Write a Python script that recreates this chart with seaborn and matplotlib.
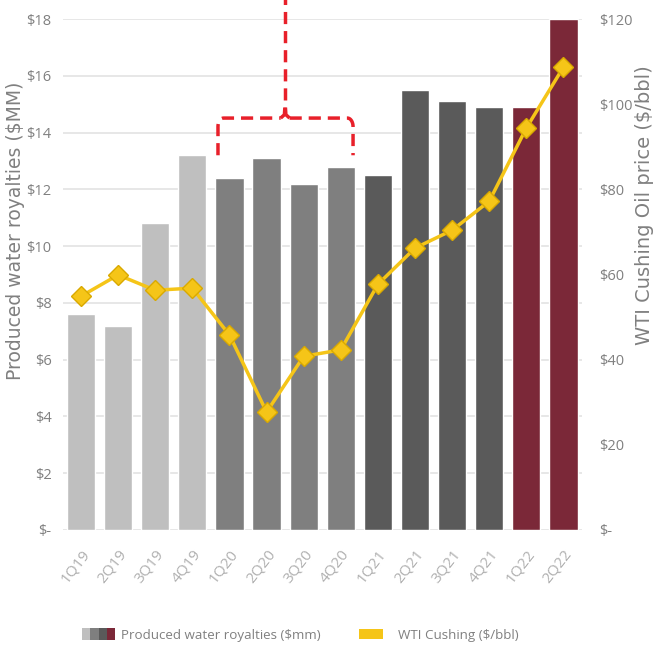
import numpy as np
import pandas as pd
import matplotlib
matplotlib.use("Agg")
import matplotlib.pyplot as plt
import seaborn as sns
from matplotlib.patches import Rectangle
from matplotlib.legend_handler import HandlerBase

# ---------------- data ----------------
quarters = ["1Q19", "2Q19", "3Q19", "4Q19", "1Q20", "2Q20", "3Q20", "4Q20",
            "1Q21", "2Q21", "3Q21", "4Q21", "1Q22", "2Q22"]
royalties = [7.6, 7.2, 10.8, 13.2, 12.4, 13.1, 12.2, 12.8,
             12.5, 15.5, 15.1, 14.9, 14.9, 18.0]
wti = [54.9, 59.9, 56.3, 56.8, 45.8, 27.7, 40.8, 42.3,
       57.7, 66.2, 70.4, 77.2, 94.4, 108.7]
left_ticks = [0, 2, 4, 6, 8, 10, 12, 14, 16, 18]
left_labels = ["$-", "$2", "$4", "$6", "$8", "$10", "$12", "$14", "$16", "$18"]
right_ticks = [0, 20, 40, 60, 80, 100, 120]
right_labels = ["$-", "$20", "$40", "$60", "$80", "$100", "$120"]

c_light, c_mid, c_dark, c_red = "#bfbfbf", "#7f7f7f", "#5a5a5a", "#7b2838"
bar_colors = [c_light] * 4 + [c_mid] * 4 + [c_dark] * 4 + [c_red] * 2
yellow, yellow_edge = "#f5c518", "#d9a900"
text_grey = "#808080"

df = pd.DataFrame({"quarter": quarters, "royalties": royalties, "wti": wti})
df["pos"] = np.arange(len(df))

sns.set_theme(style="white")
plt.rcParams["font.family"] = ["Open Sans", "DejaVu Sans"]

fig = plt.figure(figsize=(6.53, 6.52), dpi=100)
ax = fig.add_axes([62.5 / 653, 1 - 530 / 652, (582 - 62.5) / 653, (530 - 19) / 652])

sns.barplot(data=df, x="quarter", y="royalties", hue="quarter",
            palette=bar_colors, width=0.76, legend=False, ax=ax,
            saturation=1, zorder=2)
ax.set_xlim(-0.5, 13.5)
ax.set_ylim(0, 18)
ax.set_yticks(left_ticks)
ax.set_yticklabels(left_labels)
ax.grid(axis="y", color="#e3e3e3", lw=1.2, zorder=0)
ax.set_axisbelow(True)
for s in ax.spines.values():
    s.set_visible(False)
ax.tick_params(axis="y", length=0, pad=8, labelsize=10.5, labelcolor=text_grey)
ax.set_xlabel("")
ax.set_ylabel("Produced water royalties ($MM)", fontsize=13.5, color=text_grey,
              family=["DejaVu Sans"], va="center", ha="center")
ax.yaxis.set_label_coords(-0.0914, 0.585)

ax2 = ax.twinx()
sns.lineplot(data=df, x="pos", y="wti", ax=ax2, color=yellow, lw=2.5,
             marker="D", markersize=10, markerfacecolor=yellow,
             markeredgecolor=yellow_edge, markeredgewidth=1, zorder=3)
ax2.set_ylim(0, 120)
ax2.set_xlim(-0.5, 13.5)
ax2.set_yticks(right_ticks)
ax2.set_yticklabels(right_labels)
ax2.grid(False)
for s in ax2.spines.values():
    s.set_visible(False)
ax2.tick_params(axis="y", length=0, pad=12, labelsize=10.5, labelcolor=text_grey)
ax2.set_xlabel("")
ax2.set_ylabel("WTI Cushing Oil price ($/bbl)", fontsize=14, color=text_grey,
               family=["DejaVu Sans"], rotation=90, va="center", ha="center")
ax2.yaxis.set_label_coords((644.5 - 62.5) / 519.5, 0.636)

# ---------------- red dashed bracket (COVID period) ----------------
red = "#e8202a"
bx_l, bx_r, bx_c = 3.69, 7.33, 5.50
by_leg, by_top, by_stem, by_up = 13.2, 14.51, 15.04, 18.8
r_x, r_y = 0.15, 0.3
t = np.linspace(0, np.pi / 2, 10)
left_x = np.concatenate([[bx_l], bx_l + r_x - r_x * np.cos(t), [bx_c - 0.12]])
left_y = np.concatenate([[by_leg], by_top - r_y + r_y * np.sin(t), [by_top]])
right_x = np.concatenate([[bx_c + 0.12], bx_r - r_x + r_x * np.sin(t), [bx_r]])
right_y = np.concatenate([[by_top], by_top - r_y + r_y * np.cos(t), [by_leg]])
kw = dict(color=red, lw=2.5, dashes=(3.5, 2), clip_on=False, zorder=4,
          dash_capstyle="butt")
ax.plot(left_x, left_y, **kw)
ax.plot(right_x, right_y, **kw)
ax.plot([bx_c - 0.12, bx_c - 0.02, bx_c], [by_top, by_top + 0.12, by_stem], **kw)
ax.plot([bx_c + 0.12, bx_c + 0.02, bx_c], [by_top, by_top + 0.12, by_stem], **kw)
ax.plot([bx_c, bx_c], [by_stem + 0.1, by_up], **kw)

# ---------------- legend ----------------
class MultiColor:
    def __init__(self, colors, frac=1.0, hfrac=1.0):
        self.colors = colors
        self.frac = frac
        self.hfrac = hfrac


class MultiColorHandler(HandlerBase):
    def create_artists(self, legend, orig_handle, xdescent, ydescent,
                       width, height, fontsize, trans):
        cols = orig_handle.colors
        w = width * orig_handle.frac / len(cols)
        h = height * orig_handle.hfrac
        y0 = -ydescent + (height - h) / 2
        arts = []
        for i, c in enumerate(cols):
            r = Rectangle((-xdescent + i * w, y0), w, h, facecolor=c,
                          edgecolor="none", transform=trans)
            arts.append(r)
        return arts


h1 = MultiColor([c_light, c_mid, c_dark, c_red], 1.0, 1.2)
h2 = MultiColor([yellow], 0.72, 1.0)
fig.legend([h1, h2], ["Produced water royalties ($mm)", "WTI Cushing ($/bbl)"],
           handler_map={MultiColor: MultiColorHandler()},
           loc="center", bbox_to_anchor=(300 / 653, 1 - 635 / 652), ncol=2,
           frameon=False, fontsize=9.6, labelcolor=text_grey,
           handlelength=2.5, handleheight=0.8, handletextpad=0.4,
           columnspacing=2.9)

# x tick labels (styled last so they are not reset)
ax.tick_params(axis="x", length=0, pad=12, labelsize=11, labelcolor="#b0b0b0",
               labelrotation=52)
plt.setp(ax.get_xticklabels(), ha="right", rotation_mode="anchor")

fig.savefig("out.png", dpi=100)
